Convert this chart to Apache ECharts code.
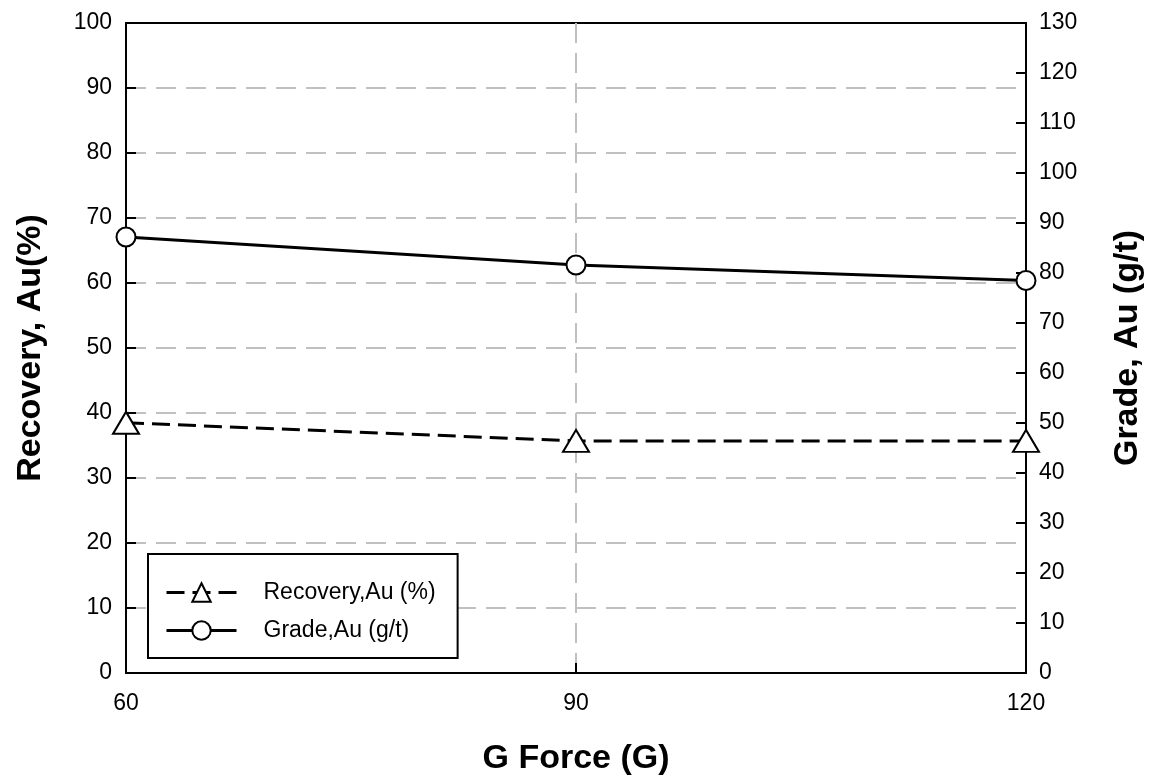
<!DOCTYPE html>
<html lang="en">
<head>
  <meta charset="UTF-8">
  <title>G Force vs Recovery and Grade</title>
  <script src="https://cdn.jsdelivr.net/npm/echarts@6/dist/echarts.min.js"></script>
  <style>
    html, body, #chart { width: 100%; height: 100%; margin: 0; padding: 0; background: #fff; }
  </style>
</head>
<body>
  <div id="chart"></div>
  <script>
    // G force settings (x axis)
    const gForce = [60, 90, 120]
    // Recovery, Au (%) - left axis
    const recovery = [38.5, 35.7, 35.7]
    // Grade, Au (g/t) - right axis
    const grade = [87.2, 81.6, 78.5]

    const font = 'Liberation Sans, Arial, sans-serif'
    const chart = echarts.init(document.getElementById('chart'))

    const gridLine = {
      show: true, showMinLine: false, showMaxLine: false,
      lineStyle: { color: '#c0c0c0', width: 2, type: [20, 10] }
    }
    const tick = { show: true, inside: true, length: 10, lineStyle: { color: '#000', width: 2 } }
    const axisLine = { show: true, lineStyle: { color: '#000', width: 2 } }
    const tickLabel = { color: '#000', fontSize: 23, fontFamily: font }
    const titleStyle = { color: '#000', fontSize: 34, fontWeight: 'bold', fontFamily: font }
    const markerStyle = { color: '#fff', borderColor: '#000', borderWidth: 2 }

    chart.setOption({
      animation: false,
      grid: {
        left: 126, right: 130, top: 23, bottom: 105,
        outerBoundsMode: 'none', containLabel: false,
        show: true, borderColor: '#000', borderWidth: 2
      },
      legend: {
        orient: 'vertical',
        left: 148,
        top: 554,
        padding: [27, 22, 16, 17],
        itemWidth: 70,
        itemHeight: 23,
        itemGap: 15,
        borderColor: '#000',
        borderWidth: 2,
        backgroundColor: '#fff',
        textStyle: { color: '#000', fontSize: 23, fontFamily: font, padding: [0, 0, 0, 22] },
        data: [
          { name: 'Recovery,Au (%)', lineStyle: { width: 3, type: [18, 8] }, itemStyle: markerStyle },
          { name: 'Grade,Au (g/t)', lineStyle: { width: 3 }, itemStyle: markerStyle }
        ]
      },
      xAxis: {
        type: 'value',
        min: 60, max: 120, interval: 30,
        name: 'G Force (G)',
        nameLocation: 'middle',
        nameGap: 69,
        nameTextStyle: titleStyle,
        axisLine, axisTick: tick,
        axisLabel: Object.assign({ margin: 19 }, tickLabel),
        splitLine: gridLine
      },
      yAxis: [
        {
          type: 'value',
          min: 0, max: 100, interval: 10,
          name: 'Recovery, Au(%)',
          nameLocation: 'middle',
          nameRotate: 90,
          nameGap: 78,
          nameTextStyle: titleStyle,
          axisLine, axisTick: tick,
          axisLabel: Object.assign({ margin: 14 }, tickLabel),
          splitLine: gridLine
        },
        {
          type: 'value',
          position: 'right',
          min: 0, max: 130, interval: 10,
          name: 'Grade, Au (g/t)',
          nameLocation: 'middle',
          nameRotate: 90,
          nameGap: 85,
          nameTextStyle: titleStyle,
          axisLine, axisTick: tick,
          axisLabel: Object.assign({ margin: 13 }, tickLabel),
          splitLine: { show: false }
        }
      ],
      series: [
        {
          name: 'Recovery,Au (%)',
          type: 'line',
          yAxisIndex: 0,
          data: gForce.map((g, i) => [g, recovery[i]]),
          symbol: 'triangle',
          symbolSize: [26, 22],
          lineStyle: { color: '#000', width: 3, type: [18, 8] },
          itemStyle: markerStyle
        },
        {
          name: 'Grade,Au (g/t)',
          type: 'line',
          yAxisIndex: 1,
          data: gForce.map((g, i) => [g, grade[i]]),
          symbol: 'circle',
          symbolSize: 19,
          lineStyle: { color: '#000', width: 3 },
          itemStyle: markerStyle
        }
      ]
    })
  </script>
</body>
</html>
